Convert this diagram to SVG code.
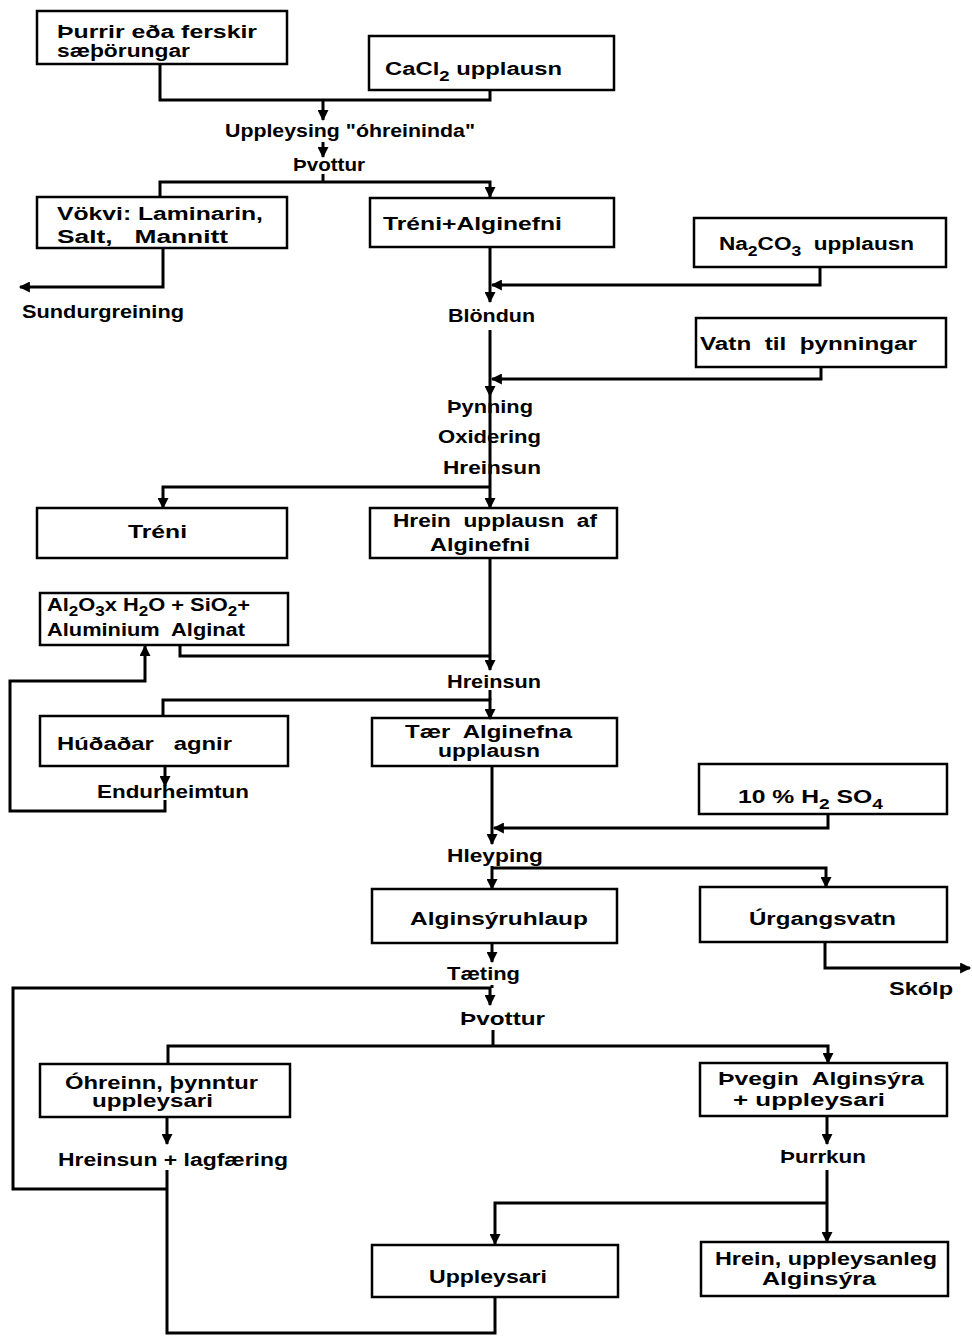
<svg xmlns="http://www.w3.org/2000/svg" width="972" height="1336" viewBox="0 0 972 1336">
<style>
.box{fill:none;stroke:#000;stroke-width:2.5}
.c{fill:none;stroke:#000;stroke-width:3}
.a{marker-end:url(#ah)}
text{font-family:"Liberation Sans",Arial,sans-serif;font-weight:bold;font-size:18px;fill:#000}
.s{font-size:14px}
</style>
<defs>
<marker id="ah" viewBox="0 0 10 10" refX="9" refY="5" markerWidth="13" markerHeight="11" markerUnits="userSpaceOnUse" orient="auto"><path d="M0,0 L10,5 L0,10 z" fill="#000"/></marker>
</defs>
<rect width="972" height="1336" fill="#fff"/>
<g id="connectors">
<path class="c" d="M160,64 V100 H490 V90"/>
<path class="c a" d="M323,100 V120"/>
<path class="c a" d="M323,142 V157"/>
<path class="c" d="M323,174 V182"/>
<path class="c a" d="M160,197 V182 H490 V197"/>
<path class="c a" d="M163,248 V287 H20"/>
<path class="c a" d="M490,247 V302"/>
<path class="c a" d="M820,267 V285 H492"/>
<path class="c a" d="M490,330 V396"/>
<path class="c a" d="M821,367 V379 H492"/>
<path class="c" d="M490,396 V487"/>
<path class="c a" d="M490,487 H163 V508"/>
<path class="c a" d="M490,487 V508"/>
<path class="c a" d="M490,558 V670"/>
<path class="c" d="M180,645 V656 H490"/>
<path class="c" d="M490,690 V700"/>
<path class="c a" d="M163,716 V700 H490 V719"/>
<path class="c a" d="M165,766 V786"/>
<path class="c a" d="M165,800 V811 H10 V681 H145 V646"/>
<path class="c a" d="M492,766 V844"/>
<path class="c a" d="M828,814 V828 H494"/>
<path class="c a" d="M492,866 V889"/>
<path class="c a" d="M492,868 H826 V887"/>
<path class="c a" d="M825,942 V968 H970"/>
<path class="c a" d="M492,943 V962"/>
<path class="c" d="M492,985 V988"/>
<path class="c a" d="M167,1189 H13 V988 H490 V1005"/>
<path class="c" d="M167,1170 V1333 H495 V1297"/>
<path class="c" d="M493,1030 V1046"/>
<path class="c a" d="M168,1064 V1046 H828 V1063"/>
<path class="c a" d="M167,1117 V1144"/>
<path class="c a" d="M827,1116 V1144"/>
<path class="c a" d="M827,1170 V1242"/>
<path class="c a" d="M827,1203 H495 V1244"/>
</g>
<g id="n_thurrir"><rect class="box" x="37" y="11" width="250" height="53"/>
<text x="57" y="38" textLength="200" lengthAdjust="spacingAndGlyphs">Þurrir eða ferskir</text>
<text x="57" y="57" textLength="133" lengthAdjust="spacingAndGlyphs">sæþörungar</text></g>
<g id="n_cacl2"><rect class="box" x="369" y="36" width="245" height="54"/>
<text x="385" y="75" textLength="177" lengthAdjust="spacingAndGlyphs">CaCl<tspan class="s" dy="6">2</tspan><tspan dy="-6"> upplausn</tspan></text></g>
<g id="n_uppleysing"><text x="225" y="137" textLength="250" lengthAdjust="spacingAndGlyphs">Uppleysing "óhreininda"</text></g>
<g id="n_thvottur1"><text x="293" y="171" textLength="72" lengthAdjust="spacingAndGlyphs">Þvottur</text></g>
<g id="n_vokvi"><rect class="box" x="37" y="197" width="250" height="51"/>
<text x="57" y="220" textLength="206" lengthAdjust="spacingAndGlyphs">Vökvi: Laminarin,</text>
<text x="57" y="243" textLength="171" lengthAdjust="spacingAndGlyphs" xml:space="preserve">Salt,   Mannitt</text></g>
<g id="n_treni_alg"><rect class="box" x="370" y="198" width="244" height="49"/>
<text x="383" y="230" textLength="179" lengthAdjust="spacingAndGlyphs">Tréni+Alginefni</text></g>
<g id="n_na2co3"><rect class="box" x="694" y="218" width="252" height="49"/>
<text x="719" y="250" textLength="195" lengthAdjust="spacingAndGlyphs">Na<tspan class="s" dy="6">2</tspan><tspan dy="-6">CO</tspan><tspan class="s" dy="6">3</tspan><tspan dy="-6" xml:space="preserve">  upplausn</tspan></text></g>
<g id="n_sundur"><text x="22" y="318" textLength="162" lengthAdjust="spacingAndGlyphs">Sundurgreining</text></g>
<g id="n_blondun"><text x="448" y="322" textLength="87" lengthAdjust="spacingAndGlyphs">Blöndun</text></g>
<g id="n_vatn"><rect class="box" x="696" y="318" width="250" height="49"/>
<text x="700" y="350" textLength="217" lengthAdjust="spacingAndGlyphs" xml:space="preserve">Vatn  til  þynningar</text></g>
<g id="n_thynning"><text x="447" y="413" textLength="86" lengthAdjust="spacingAndGlyphs">Þynning</text></g>
<g id="n_oxidering"><text x="438" y="443" textLength="103" lengthAdjust="spacingAndGlyphs">Oxidering</text></g>
<g id="n_hreinsun1"><text x="443" y="474" textLength="98" lengthAdjust="spacingAndGlyphs">Hreinsun</text></g>
<g id="n_treni"><rect class="box" x="37" y="508" width="250" height="50"/>
<text x="128" y="538" textLength="59" lengthAdjust="spacingAndGlyphs">Tréni</text></g>
<g id="n_hrein_upp"><rect class="box" x="370" y="508" width="247" height="50"/>
<text x="393" y="527" textLength="204" lengthAdjust="spacingAndGlyphs" xml:space="preserve">Hrein  upplausn  af</text>
<text x="430" y="551" textLength="100" lengthAdjust="spacingAndGlyphs">Alginefni</text></g>
<g id="n_al2o3"><rect class="box" x="40" y="593" width="248" height="52"/>
<text x="47" y="611" textLength="203" lengthAdjust="spacingAndGlyphs">Al<tspan class="s" dy="5">2</tspan><tspan dy="-5">O</tspan><tspan class="s" dy="5">3</tspan><tspan dy="-5">x H</tspan><tspan class="s" dy="5">2</tspan><tspan dy="-5">O + SiO</tspan><tspan class="s" dy="5">2</tspan><tspan dy="-5">+</tspan></text>
<text x="47" y="636" textLength="198" lengthAdjust="spacingAndGlyphs" xml:space="preserve">Aluminium  Alginat</text></g>
<g id="n_hreinsun2"><text x="447" y="688" textLength="94" lengthAdjust="spacingAndGlyphs">Hreinsun</text></g>
<g id="n_hudadar"><rect class="box" x="40" y="716" width="248" height="50"/>
<text x="57" y="750" textLength="175" lengthAdjust="spacingAndGlyphs" xml:space="preserve">Húðaðar   agnir</text></g>
<g id="n_endurheimtun"><text x="97" y="798" textLength="152" lengthAdjust="spacingAndGlyphs">Endurheimtun</text></g>
<g id="n_taer"><rect class="box" x="372" y="718" width="245" height="48"/>
<text x="405" y="738" textLength="167" lengthAdjust="spacingAndGlyphs" xml:space="preserve">Tær  Alginefna</text>
<text x="438" y="757" textLength="102" lengthAdjust="spacingAndGlyphs">upplausn</text></g>
<g id="n_h2so4"><rect class="box" x="699" y="764" width="248" height="50"/>
<text x="738" y="803" textLength="145" lengthAdjust="spacingAndGlyphs">10 % H<tspan class="s" dy="6">2</tspan><tspan dy="-6"> SO</tspan><tspan class="s" dy="6">4</tspan></text></g>
<g id="n_hleyping"><text x="447" y="862" textLength="96" lengthAdjust="spacingAndGlyphs">Hleyping</text></g>
<g id="n_alginsyruhlaup"><rect class="box" x="372" y="889" width="245" height="54"/>
<text x="410" y="925" textLength="178" lengthAdjust="spacingAndGlyphs">Alginsýruhlaup</text></g>
<g id="n_urgangsvatn"><rect class="box" x="700" y="887" width="247" height="55"/>
<text x="749" y="925" textLength="147" lengthAdjust="spacingAndGlyphs">Úrgangsvatn</text></g>
<g id="n_skolp"><text x="889" y="995" textLength="64" lengthAdjust="spacingAndGlyphs">Skólp</text></g>
<g id="n_taeting"><text x="447" y="980" textLength="73" lengthAdjust="spacingAndGlyphs">Tæting</text></g>
<g id="n_thvottur2"><text x="460" y="1025" textLength="85" lengthAdjust="spacingAndGlyphs">Þvottur</text></g>
<g id="n_ohreinn"><rect class="box" x="40" y="1064" width="250" height="53"/>
<text x="65" y="1089" textLength="193" lengthAdjust="spacingAndGlyphs">Óhreinn, þynntur</text>
<text x="92" y="1107" textLength="121" lengthAdjust="spacingAndGlyphs">uppleysari</text></g>
<g id="n_hreinsun3"><text x="58" y="1166" textLength="230" lengthAdjust="spacingAndGlyphs">Hreinsun + lagfæring</text></g>
<g id="n_thvegin"><rect class="box" x="700" y="1063" width="247" height="53"/>
<text x="718" y="1085" textLength="206" lengthAdjust="spacingAndGlyphs" xml:space="preserve">Þvegin  Alginsýra</text>
<text x="733" y="1106" textLength="152" lengthAdjust="spacingAndGlyphs">+ uppleysari</text></g>
<g id="n_thurrkun"><text x="780" y="1163" textLength="86" lengthAdjust="spacingAndGlyphs">Þurrkun</text></g>
<g id="n_uppleysari"><rect class="box" x="372" y="1245" width="246" height="52"/>
<text x="429" y="1283" textLength="118" lengthAdjust="spacingAndGlyphs">Uppleysari</text></g>
<g id="n_hrein_alg"><rect class="box" x="701" y="1242" width="247" height="54"/>
<text x="715" y="1265" textLength="222" lengthAdjust="spacingAndGlyphs">Hrein, uppleysanleg</text>
<text x="762" y="1285" textLength="114" lengthAdjust="spacingAndGlyphs">Alginsýra</text></g>
</svg>
